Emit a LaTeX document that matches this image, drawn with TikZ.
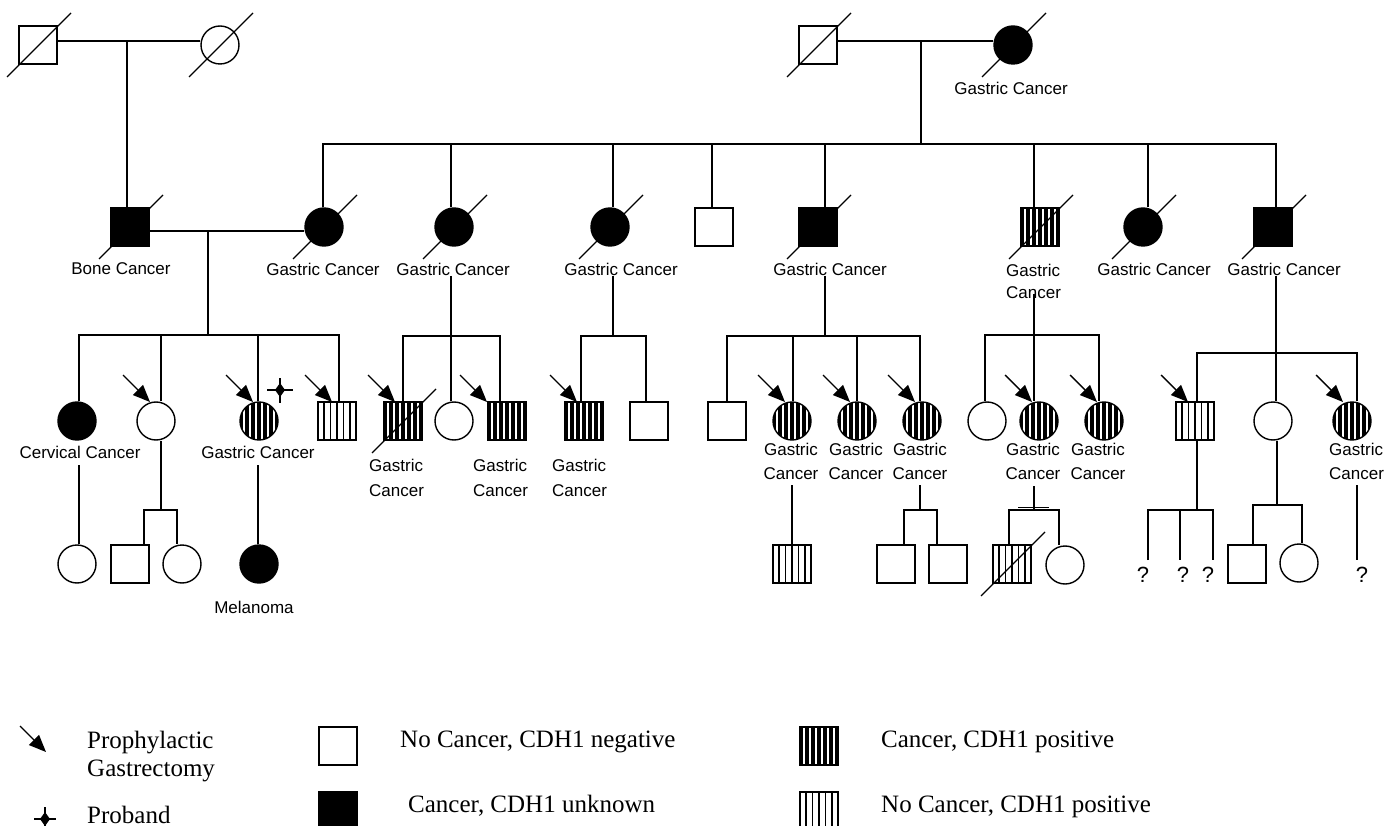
\documentclass[tikz,border=0pt]{standalone}
\usepackage{fontspec}
\setmainfont{Liberation Serif}
\newfontfamily\labfont{Liberation Sans}
\usetikzlibrary{arrows.meta,backgrounds}
\tikzset{
 pl/.style={line width=2.8pt, line join=miter},
 shp/.style={draw=black, line width=1.4pt, minimum size=38pt, inner sep=0pt},
 sqn/.style={shp, rectangle, fill=white},
 crn/.style={shp, circle, fill=white},
 sqf/.style={shp, rectangle, fill=black},
 crf/.style={shp, circle, fill=black},
 cposst/.style={fill=black, path picture={\foreach \d in {-15,-9,-3,3,9,15}{\draw[white,line width=1.6pt] ([xshift=\d pt]path picture bounding box.north) -- ([xshift=\d pt]path picture bounding box.south);}}},
 nposst/.style={fill=white, path picture={\foreach \d in {-13,-6.5,0,6.5,13}{\draw[black,line width=1.2pt] ([xshift=\d pt]path picture bounding box.north) -- ([xshift=\d pt]path picture bounding box.south);}}},
 sqcp/.style={shp, rectangle, cposst},
 crcp/.style={shp, circle, cposst},
 sqnp/.style={shp, rectangle, nposst},
 slash/.style={line width=1.3pt},
 pga/.style={line width=1.4pt, -{Triangle[length=17pt,width=14pt]}},
 lab/.style={font=\labfont\fontsize{17}{24}\selectfont, inner sep=0pt},
 labb/.style={font=\labfont\fontsize{17}{25}\selectfont, inner sep=0pt, align=left, anchor=west},
 labc/.style={font=\labfont\fontsize{17}{24}\selectfont, inner sep=0pt, align=center},
 qm/.style={font=\labfont\fontsize{22}{24}\selectfont, inner sep=0pt},
 leg/.style={font=\fontsize{25}{30}\selectfont, inner sep=0pt, anchor=base west},
}
\newcommand\dslash[1]{\draw[slash] ([shift={(-31,32)}]#1.center) -- ([shift={(33,-32)}]#1.center);}
\begin{document}
\begin{tikzpicture}[x=1pt,y=-1pt]
\useasboundingbox (0,0) rectangle (1387,826);
% Generation I
\node[sqn] (A) at (38,45) {};
\node[crn] (B) at (220,45) {};
\node[sqn] (C) at (818,45) {};
\node[crf] (D) at (1013,45) {};
\node[lab] (Dl) at (1011,88) {Gastric Cancer};
% Generation II
\node[sqf] (E) at (130,227) {};
\node[crf] (F) at (324,227) {};
\node[crf] (G) at (454,227) {};
\node[crf] (H) at (610,227) {};
\node[sqn] (I) at (714,227) {};
\node[sqf] (J) at (818,227) {};
\node[sqcp] (K) at (1040,227) {};
\node[crf] (L) at (1143,227) {};
\node[sqf] (M) at (1273,227) {};
\node[lab] (El) at (121,269) {Bone Cancer};
\node[lab] (Fl) at (323,269) {Gastric Cancer};
\node[lab] (Gl) at (453,269) {Gastric Cancer};
\node[lab] (Hl) at (621,269) {Gastric Cancer};
\node[lab] (Jl) at (830,269) {Gastric Cancer};
\node[labb, font=\labfont\fontsize{17}{22}\selectfont] (Kl) at (1006,281) {Gastric\\Cancer};
\node[lab] (Ll) at (1154,269) {Gastric Cancer};
\node[lab] (Ml) at (1284,269) {Gastric Cancer};
% Generation III
\node[crf] (N) at (77,421) {};
\node[crn] (O) at (156,421) {};
\node[crcp] (P) at (259,421) {};
\node[sqnp] (Q) at (337,421) {};
\node[sqcp] (R) at (403,421) {};
\node[crn] (S) at (454,421) {};
\node[sqcp] (T) at (507,421) {};
\node[sqcp] (U) at (584,421) {};
\node[sqn] (V) at (649,421) {};
\node[sqn] (W) at (727,421) {};
\node[crcp] (X) at (792,421) {};
\node[crcp] (Y) at (857,421) {};
\node[crcp] (Z) at (922,421) {};
\node[crn] (AA) at (987,421) {};
\node[crcp] (AB) at (1039,421) {};
\node[crcp] (AC) at (1104,421) {};
\node[sqnp] (AD) at (1195,421) {};
\node[crn] (AE) at (1273,421) {};
\node[crcp] (AF) at (1352,421) {};
\node[lab] (Nl) at (80,452) {Cervical Cancer};
\node[lab] (Pl) at (258,452) {Gastric Cancer};
\node[labb] (Rl) at (369,477.5) {Gastric\\Cancer};
\node[labb] (Tl) at (473,477.5) {Gastric\\Cancer};
\node[labb] (Ul) at (552,477.5) {Gastric\\Cancer};
\node[labc] (Xl) at (791,461) {Gastric\\Cancer};
\node[labc] (Yl) at (856,461) {Gastric\\Cancer};
\node[labc] (Zl) at (920,461) {Gastric\\Cancer};
\node[labc] (ABl) at (1033,461) {Gastric\\Cancer};
\node[labc] (ACl) at (1098,461) {Gastric\\Cancer};
\node[labb, font=\labfont\fontsize{17}{24}\selectfont] (AFl) at (1329,461) {Gastric\\Cancer};
% Generation IV
\node[crn] (N2) at (77,564) {};
\node[sqn] (O2a) at (130,564) {};
\node[crn] (O2b) at (182,564) {};
\node[crf] (P2) at (259,564) {};
\node[lab] (P2l) at (254,607) {Melanoma};
\node[sqnp] (X2) at (792,564) {};
\node[sqn] (Z2a) at (896,564) {};
\node[sqn] (Z2b) at (948,564) {};
\node[sqnp] (AB2a) at (1012,564) {};
\node[crn] (AB2b) at (1065,565) {};
\node[sqn] (AE2a) at (1247,564) {};
\node[crn] (AE2b) at (1299,563) {};
\node[qm] (q1) at (1143,575) {?};
\node[qm] (q2) at (1183,575) {?};
\node[qm] (q3) at (1208,575) {?};
\node[qm] (q4) at (1362,575) {?};
% deceased slashes
\foreach \n in {A,B,C,D,E,F,G,H,J,K,L,M,R,AB2a} {\dslash{\n}}
% prophylactic gastrectomy arrows
\foreach \x in {150,253,332,395,487,577,785,850,915,1032,1097,1188,1343} {\draw[pga] ({\x-27},375) -- (\x,402);}
% proband
\draw[line width=2.2pt] (267,390) -- (293,390) (280,378) -- (280,403);
\fill (280,383) -- (285,390) -- (280,397) -- (275,390) -- cycle;
% Legend
\draw[pga] (20,726) -- (46,752);
\node[leg] (t1) at (87,748) {Prophylactic};
\node[leg] (t2) at (87,776) {Gastrectomy};
\draw[line width=2.2pt] (34,819) -- (56,819) (45,807) -- (45,832);
\fill (45,812) -- (50,819) -- (45,826) -- (40,819) -- cycle;
\node[leg] (t3) at (87,823) {Proband};
\node[sqn] (L1) at (338,746) {};
\node[leg] (t4) at (400,747) {No Cancer, CDH1 negative};
\node[sqf] (L2) at (338,811) {};
\node[leg] (t5) at (408,812) {Cancer, CDH1 unknown};
\node[sqcp] (L3) at (819,746) {};
\node[leg] (t6) at (881,747) {Cancer, CDH1 positive};
\node[sqnp] (L4) at (819,811) {};
\node[leg] (t7) at (881,812) {No Cancer, CDH1 positive};
% connectors
\begin{pgfonlayer}{background}
\fill[white] (0,0) rectangle (1387,826);
\draw[pl] ([yshift=4pt]A.east) -- ([yshift=4pt]B.west);
\draw[pl] (127,41) -- (127,0 |- E.north);
\draw[pl] ([yshift=4pt]C.east) -- ([yshift=4pt]D.west);
\draw[pl] (921,41) -- (921,144);
\draw[pl] (323,0 |- F.north) -- (323,144) -- (1276,144) -- (1276,0 |- M.north);
\foreach \x/\n in {451/G,613/H,712/I,825/J,1034/K,1148/L} {\draw[pl] (\x,144) -- (\x,0 |- \n.north);}
\draw[pl] ([yshift=-4pt]E.east) -- ([yshift=-4pt]F.west);
\draw[pl] (208,231) -- (208,335);
\draw[pl] (79,0 |- N.north) -- (79,335) -- (339,335) -- (339,0 |- Q.north);
\draw[pl] (161,335) -- (161,0 |- O.north);
\draw[pl] (258,335) -- (258,0 |- P.north);
\draw[pl] (451,276) -- (451,0 |- S.north);
\draw[pl] (403,0 |- R.north) -- (403,336) -- (500,336) -- (500,0 |- T.north);
\draw[pl] (613,276) -- (613,336);
\draw[pl] (581,0 |- U.north) -- (581,336) -- (646,336) -- (646,0 |- V.north);
\draw[pl] (825,276) -- (825,336);
\draw[pl] (727,0 |- W.north) -- (727,336) -- (920,336) -- (920,0 |- Z.north);
\draw[pl] (793,336) -- (793,0 |- X.north);
\draw[pl] (857,336) -- (857,0 |- Y.north);
\draw[pl] (1034,294) -- (1034,0 |- AB.north);
\draw[pl] (985,0 |- AA.north) -- (985,335) -- (1099,335) -- (1099,0 |- AC.north);
\draw[pl] (1276,276) -- (1276,0 |- AE.north);
\draw[pl] (1197,0 |- AD.north) -- (1197,353) -- (1357,353) -- (1357,0 |- AF.north);
\draw[pl] (79,465) -- (79,0 |- N2.north);
\draw[pl] (161,0 |- O.south) -- (161,510);
\draw[pl] (144,0 |- O2a.north) -- (144,510) -- (177,510) -- (177,0 |- O2b.north);
\draw[pl] (258,465) -- (258,0 |- P2.north);
\draw[pl] (792,485) -- (792,0 |- X2.north);
\draw[pl] (920,485) -- (920,510);
\draw[pl] (904,0 |- Z2a.north) -- (904,510) -- (937,510) -- (937,0 |- Z2b.north);
\draw[pl] (1034,486) -- (1034,510);
\draw[pl] (1009,0 |- AB2a.north) -- (1009,510) -- (1059,510) -- (1059,0 |- AB2b.north);
\draw[line width=1.5pt] (1018,507.5) -- (1049,507.5);
\draw[pl] (1197,0 |- AD.south) -- (1197,510);
\draw[pl] (1148,560) -- (1148,510) -- (1213,510) -- (1213,560);
\draw[pl] (1180,510) -- (1180,560);
\draw[pl] (1277,0 |- AE.south) -- (1277,505);
\draw[pl] (1253,0 |- AE2a.north) -- (1253,505) -- (1302,505) -- (1302,0 |- AE2b.north);
\draw[pl] (1357,485) -- (1357,560);
\end{pgfonlayer}
\end{tikzpicture}
\end{document}
